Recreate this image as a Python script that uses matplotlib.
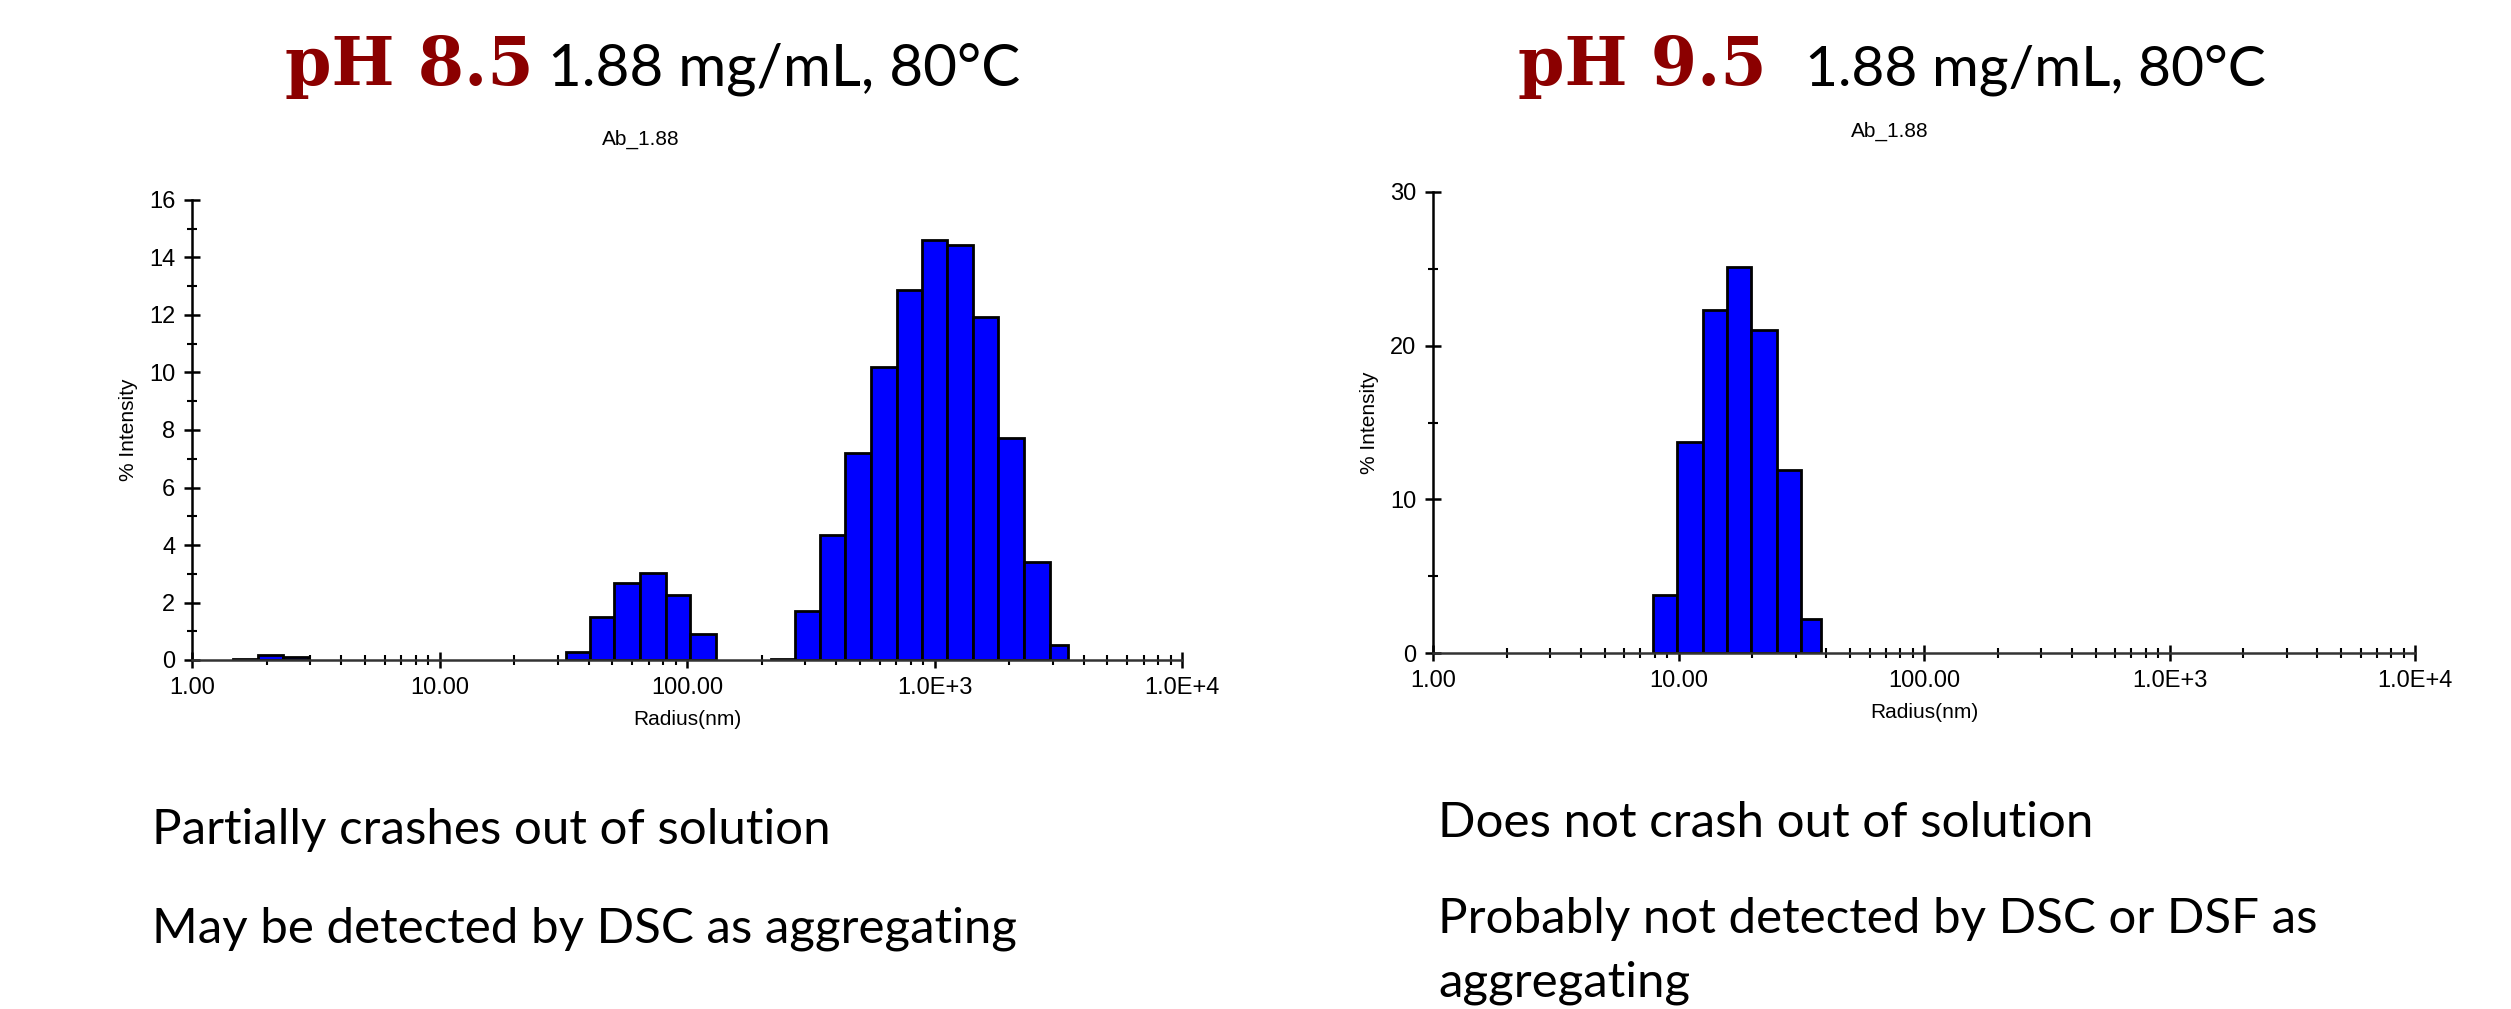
import numpy as np
import matplotlib
matplotlib.use("Agg")
import matplotlib.pyplot as plt
from matplotlib.ticker import FixedLocator, LogLocator, NullFormatter

# --- data (radius bin edges in nm, % intensity) ---
ph85_edges_a = [1.47, 1.85, 2.33, 2.93]
ph85_vals_a = [0.05, 0.17, 0.12]
ph85_edges_b = [32.5, 40.7, 50.7, 64.6, 82.2, 103.0, 131.0]
ph85_vals_b = [0.27, 1.51, 2.69, 3.02, 2.25, 0.89]
ph85_edges_c = [218, 272, 345, 436, 555, 708, 889, 1125, 1435, 1803, 2297, 2930, 3452]
ph85_vals_c = [0.05, 1.71, 4.36, 7.21, 10.19, 12.86, 14.6, 14.42, 11.92, 7.71, 3.41, 0.53]

ph95_edges = [7.86, 9.88, 12.56, 15.72, 19.83, 25.3, 31.6, 38.0]
ph95_vals = [3.78, 13.76, 22.3, 25.1, 21.0, 11.9, 2.2]

x_ticks = [1, 10, 100, 1000, 10000]
x_labels = ["1.00", "10.00", "100.00", "1.0E+3", "1.0E+4"]

notes_left = ["Partially crashes out of solution", "May be detected by DSC as aggregating"]
notes_right = ["Does not crash out of solution", "Probably not detected by DSC or DSF as",
               "aggregating"]

W, H = 2511, 1009
fig = plt.figure(figsize=(W / 100, H / 100), dpi=100)
fig.patch.set_facecolor("white")

tick_font = "Liberation Sans"


def draw_hist(ax, groups, ymax, ymajor, yminor):
    for edges, vals in groups:
        e = np.array(edges, dtype=float)
        ax.bar(e[:-1], vals, width=np.diff(e), align="edge",
               color="#0000FF", edgecolor="black", linewidth=2.0, zorder=2)
    ax.set_xscale("log")
    ax.set_xlim(1, 10000)
    ax.set_ylim(0, ymax)
    for s in ["top", "right"]:
        ax.spines[s].set_visible(False)
    ax.spines["left"].set_linewidth(1.8)
    ax.spines["bottom"].set_linewidth(1.8)
    ax.spines["bottom"].set_color("#333333")
    ax.xaxis.set_major_locator(FixedLocator(x_ticks))
    ax.set_xticklabels(x_labels)
    ax.xaxis.set_minor_locator(LogLocator(base=10, subs=np.arange(2, 10)))
    ax.xaxis.set_minor_formatter(NullFormatter())
    ax.yaxis.set_major_locator(FixedLocator(ymajor))
    ax.yaxis.set_minor_locator(FixedLocator(yminor))
    ax.tick_params(axis="both", which="major", direction="inout", length=12, width=1.8,
                   labelsize=17, pad=6)
    ax.tick_params(axis="both", which="minor", direction="inout", length=7, width=1.5)
    for lab in ax.get_xticklabels() + ax.get_yticklabels():
        lab.set_fontfamily(tick_font)
    ax.set_ylabel("% Intensity", fontsize=15, family=tick_font, labelpad=8)
    ax.set_xlabel("Radius(nm)", fontsize=15, family=tick_font, labelpad=8)
    ax.patch.set_alpha(0)


ax1 = fig.add_axes([192 / W, 1 - 660 / H, (1182 - 192) / W, (660 - 200) / H])
draw_hist(ax1, [(ph85_edges_a, ph85_vals_a), (ph85_edges_b, ph85_vals_b),
                (ph85_edges_c, ph85_vals_c)],
          16, list(range(0, 17, 2)), list(range(1, 17, 2)))

ax2 = fig.add_axes([1433 / W, 1 - 653 / H, (2415 - 1433) / W, (653 - 192) / H])
draw_hist(ax2, [(ph95_edges, ph95_vals)], 30, [0, 10, 20, 30], [5, 15, 25])

# titles
red = "#8B0000"
fig.text(285 / W, 1 - 85 / H, "pH 8.5", color=red, fontsize=48, fontweight="bold",
         family="DejaVu Serif", ha="left", va="baseline")
fig.text(548 / W, 1 - 85 / H, "1.88 mg/mL, 80°C", color="black", fontsize=42,
         family="Lato", ha="left", va="baseline")
fig.text(1518 / W, 1 - 85 / H, "pH 9.5", color=red, fontsize=48, fontweight="bold",
         family="DejaVu Serif", ha="left", va="baseline")
fig.text(1805 / W, 1 - 85 / H, "1.88 mg/mL, 80°C", color="black", fontsize=41,
         family="Lato", ha="left", va="baseline")

fig.text(641 / W, 1 - 139 / H, "Ab_1.88", fontsize=15, family=tick_font, ha="center", va="center")
fig.text(1890 / W, 1 - 131 / H, "Ab_1.88", fontsize=15, family=tick_font, ha="center", va="center")

# notes underneath
fig.text(152 / W, 1 - 830 / H, notes_left[0], fontsize=35.5, family="Lato", va="center")
fig.text(152 / W, 1 - 929 / H, notes_left[1], fontsize=35.5, family="Lato", va="center")
fig.text(1438 / W, 1 - 823 / H, notes_right[0], fontsize=35.5, family="Lato", va="center")
fig.text(1438 / W, 1 - 919 / H, notes_right[1], fontsize=35.5, family="Lato", va="center")
fig.text(1438 / W, 1 - 983 / H, notes_right[2], fontsize=35.5, family="Lato", va="center")

fig.savefig("out.png", dpi=100, facecolor="white")
